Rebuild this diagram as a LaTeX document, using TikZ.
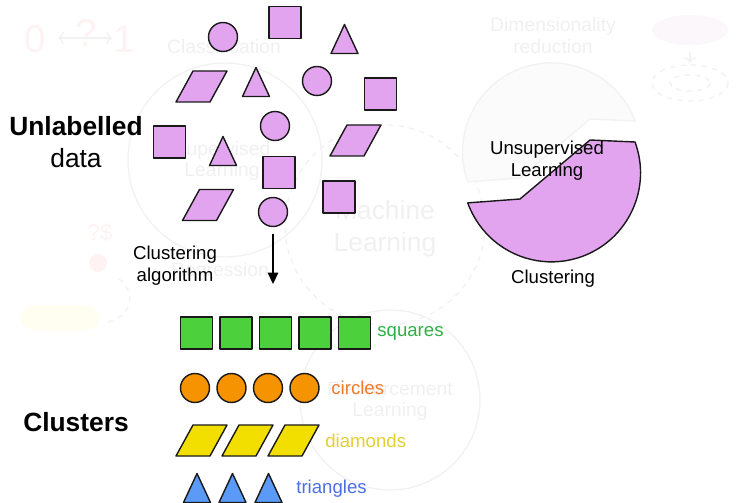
\documentclass[tikz,border=0pt]{standalone}
\usepackage{fontspec}
\setmainfont{Liberation Sans}
\usetikzlibrary{arrows.meta}
\definecolor{lilac}{HTML}{E2A4EE}
\definecolor{sqgreen}{HTML}{4CD13C}
\definecolor{cirorange}{HTML}{F59300}
\definecolor{diayellow}{HTML}{F2DF00}
\definecolor{triblue}{HTML}{5B9BF7}
\definecolor{txtgreen}{HTML}{2EAF45}
\definecolor{txtorange}{HTML}{F07A2A}
\definecolor{txtyellow}{HTML}{E3CF30}
\definecolor{txtblue}{HTML}{4C6EE6}
\tikzset{
  outl/.style={draw=black!90, line width=0.8pt, line join=round},
  sqr/.pic={\path[outl, fill=#1] (-16,-16) rectangle (16,16);},
  dot/.pic={\path[outl, fill=#1] (0,0) circle[radius=14.5];},
  tri/.pic={\path[outl, fill=#1] (-13.5,14.5) -- (0,-14.5) -- (13.5,14.5) -- cycle;},
  para/.pic={\path[outl, fill=#1] (-25.5,15.5) -- (8.5,15.5) -- (25.5,-15.5) -- (-8.5,-15.5) -- cycle;},
  ghost/.style={text=black!6, font=\fontsize{11}{12.5}\selectfont, align=center, inner sep=0},
  ghostred/.style={ghost, text=red!5, font=\fontsize{22}{22}\selectfont},
  ghostline/.style={draw=black!5, line width=0.8pt},
  lbl/.style={font=\fontsize{10.6}{12.5}\selectfont, align=center, inner sep=0},
  big/.style={font=\fontsize{15}{18}\selectfont, align=center, inner sep=0},
}
\begin{document}
\begin{tikzpicture}[x=0.02cm, y=-0.02cm]
\useasboundingbox (0,0) rectangle (737,503);

% faint background
\draw[ghostline] (225,160) circle[radius=97];
\draw[ghostline, dashed] (385,225) circle[radius=100];
\draw[ghostline] (390,400) circle[radius=90];
\path[draw=black!5, fill=black!1.5, line width=0.8pt] (635,121) arc[start angle=-20.3, end angle=-199.7, radius=89] -- (520,178) -- (590,119) -- cycle;
\node[ghostred] (g0) at (35,39) {0};
\node[ghostred] (gq) at (86,33) {?};
\node[ghostred] (g1) at (124,39) {1};
\draw[ghostline, <->] (58,38) -- (112,38);
\node[ghost] (gcls) at (224,47) {Classification};
\node[ghost] (gsup) at (222,161) {Supervised\\Learning};
\node[ghost, font=\fontsize{15}{18}\selectfont] (gml) at (385,229) {Machine\\Learning};
\node[ghost] (greg) at (220,272) {Regression};
\node[ghost] (grl) at (390,401) {Reinforcement\\Learning};
\node[ghost] (gdim) at (553,36) {Dimensionality\\reduction};
\node[ghostred, font=\fontsize{13}{13}\selectfont] (gcash) at (100,233) {?\$};
\fill[red!5] (98,263) circle[radius=9];
\fill[yellow!6, rounded corners=8] (20,305) rectangle (100,330);
\draw[ghostline, dashed] (108,322) .. controls (135,315) and (135,290) .. (118,278);
\fill[violet!3] (690,30) ellipse[x radius=38, y radius=15];
\draw[ghostline, ->] (690,52) -- (690,63);
\draw[ghostline, dashed] (690,83) ellipse[x radius=38, y radius=18];
\draw[ghostline, dashed] (690,83) ellipse[x radius=20, y radius=8];

% unlabelled data
\pic at (223,37) {dot=lilac};
\pic at (285,22.5) {sqr=lilac};
\pic at (344.5,39) {tri=lilac};
\pic at (201.5,86.5) {para=lilac};
\pic at (256,82) {tri=lilac};
\pic at (317,81) {dot=lilac};
\pic at (380.5,94) {sqr=lilac};
\pic at (275,126) {dot=lilac};
\pic at (355.5,140.5) {para=lilac};
\pic at (169.5,142) {sqr=lilac};
\pic at (223,151) {tri=lilac};
\pic at (279,172.5) {sqr=lilac};
\pic at (339,197) {sqr=lilac};
\pic at (208,205) {para=lilac};
\pic at (273,212) {dot=lilac};

\node[big] (unl) at (76,142) {\textbf{Unlabelled}\\data};
\node[lbl] (alg) at (175,266) {Clustering\\algorithm};
\coordinate (from) at (273,234);
\coordinate (to) at (273,284);
\draw[line width=0.9pt, -{Triangle[length=6.5pt, width=6pt]}] (from) -- (to);

% clusters
\foreach \x in {196.5,236,275.5,315,354.5} \pic at (\x,333) {sqr=sqgreen};
\foreach \x in {195,231.5,268,304.5} \pic at (\x,388) {dot=cirorange};
\foreach \x in {201.5,247.5,293.5} \pic at (\x,440.5) {para=diayellow};
\foreach \x in {197,232.5,268.5} \pic at (\x,488) {tri=triblue};
\node[lbl, text=txtgreen, anchor=west] (sq) at (377,333) {squares};
\node[lbl, text=txtorange, anchor=west] (ci) at (331,388) {circles};
\node[lbl, text=txtyellow, anchor=west] (di) at (325,441) {diamonds};
\node[lbl, text=txtblue, anchor=west] (tr) at (296,489) {triangles};
\node[big] (clu) at (76,422) {\textbf{Clusters}};

% unsupervised learning pie
\path[outl, fill=lilac] (635,142) arc[start angle=-20.3, end angle=160.3, radius=89] -- (520,199) -- (590,140) -- cycle;
\node[lbl] (uns) at (547,161) {Unsupervised\\Learning};
\node[lbl] (clg) at (553,279) {Clustering};
\end{tikzpicture}
\end{document}
